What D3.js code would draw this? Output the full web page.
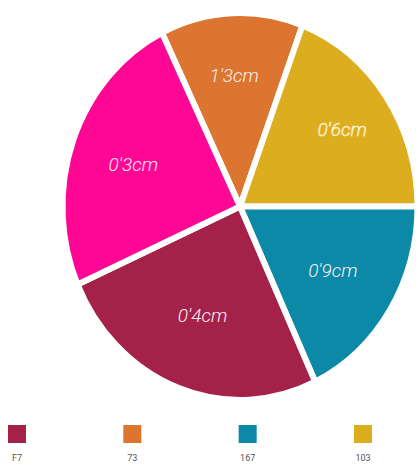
<!DOCTYPE html>
<html>
<head>
<meta charset="utf-8">
<script src="https://cdn.jsdelivr.net/npm/d3@7"></script>
<style>
  html, body { margin: 0; padding: 0; background: #ffffff; }
  svg { display: block; }
</style>
</head>
<body>
<svg id="chart" width="419" height="465"></svg>
<script>
// Slice data, in drawing order (clockwise from the top-left edge of the orange slice)
const sliceKeys   = ["orange", "yellow", "teal", "crimson", "pink"];
const sliceValues = [46.7, 69.4, 65.0, 91.3, 87.7];
const sliceLabels = ["1'3cm", "0'6cm", "0'9cm", "0'4cm", "0'3cm"];
const sliceColors = ["#db752f", "#dcae1f", "#0b89a7", "#a4214a", "#fe0794"];

// Legend entries
const legendKeys   = ["crimson", "orange", "teal", "yellow"];
const legendLabels = ["F7", "73", "167", "103"];

const width = 419, height = 465;
const cx = 240, cy = 206.5;
const radius = 177.5;
const yStretch = 1.09;
const startDeg = -26.1;

// How far out (fraction of the radius) each slice label sits
const labelRadii = { orange: 0.68, yellow: 0.70, teal: 0.62, crimson: 0.60, pink: 0.64 };

const svg = d3.select("#chart");
const color = d3.scaleOrdinal().domain(sliceKeys).range(sliceColors);

const pie = d3.pie()
  .value(d => d.value)
  .sort(null)
  .startAngle(startDeg * Math.PI / 180)
  .endAngle(startDeg * Math.PI / 180 + 2 * Math.PI);

const data = sliceKeys.map((k, i) => ({ key: k, value: sliceValues[i], label: sliceLabels[i] }));
const arcs = pie(data);

const arc = d3.arc().innerRadius(0).outerRadius(radius);
const labelPos = d => {
  const r = radius * labelRadii[d.data.key];
  const c = d3.arc().innerRadius(r).outerRadius(r).centroid(d);
  return [c[0], c[1] * yStretch];
};

// Slices (pie is slightly taller than wide)
const pieG = svg.append("g")
  .attr("transform", `translate(${cx},${cy}) scale(1,${yStretch})`);

pieG.selectAll("path")
  .data(arcs)
  .join("path")
  .attr("d", arc)
  .attr("fill", d => color(d.data.key))
  .attr("stroke", "#ffffff")
  .attr("stroke-width", 6)
  .attr("stroke-linejoin", "miter")
  .attr("vector-effect", "non-scaling-stroke");

// Slice labels
const labelG = svg.append("g").attr("transform", `translate(${cx},${cy})`);
labelG.selectAll("text")
  .data(arcs)
  .join("text")
  .attr("x", d => labelPos(d)[0])
  .attr("y", d => labelPos(d)[1])
  .attr("text-anchor", "middle")
  .attr("dominant-baseline", "central")
  .attr("font-family", "Roboto, 'Open Sans', sans-serif")
  .attr("font-style", "italic")
  .attr("font-weight", 300)
  .attr("font-size", 19)
  .attr("fill", d => d.data.key === "yellow" ? "#ecd98f" : "#fbeef3")
  .attr("stroke", d => d.data.key === "yellow" ? "#fff6dc" : "none")
  .attr("stroke-width", 0.5)
  .text(d => d.data.label);

// Legend
const legendX = d3.scalePoint().domain(legendKeys).range([17, 363]);
const legendG = svg.append("g");
const items = legendG.selectAll("g")
  .data(legendKeys.map((k, i) => ({ key: k, label: legendLabels[i] })))
  .join("g")
  .attr("transform", d => `translate(${legendX(d.key)},0)`);

items.append("rect")
  .attr("x", -9).attr("y", 425)
  .attr("width", 18).attr("height", 18)
  .attr("fill", d => color(d.key));

items.append("text")
  .attr("x", 0).attr("y", 461)
  .attr("text-anchor", "middle")
  .attr("font-family", "Roboto, 'Open Sans', sans-serif")
  .attr("font-size", 9)
  .attr("fill", "#555555")
  .text(d => d.label);
</script>
</body>
</html>
